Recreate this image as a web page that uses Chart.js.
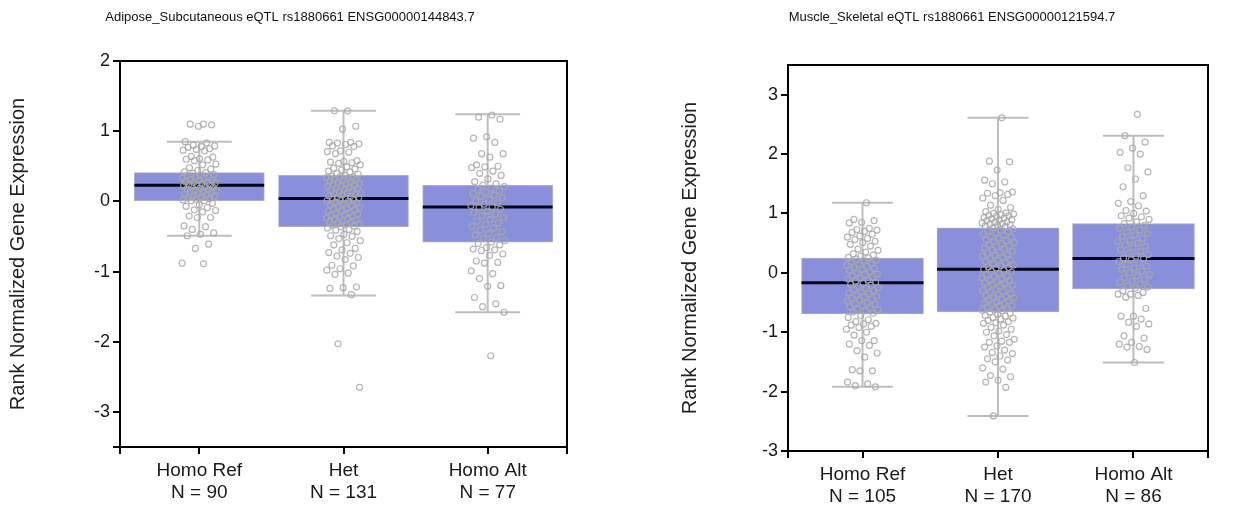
<!DOCTYPE html>
<html>
<head>
<meta charset="utf-8">
<script src="https://cdn.jsdelivr.net/npm/chart.js@4.4.0/dist/chart.umd.min.js"></script>
<style>
body { margin: 0; background: #fff; width: 1243px; height: 508px; position: relative; overflow: hidden; }
#left { position: absolute; left: 0; top: 0; }
#right { position: absolute; left: 672px; top: 0; }
</style>
</head>
<body>
<canvas id="left" width="580" height="508"></canvas>
<canvas id="right" width="560" height="508"></canvas>
<script>
// genotype groups, shared by both panels
var categories = ['Homo Ref', 'Het', 'Homo Alt'];

// Adipose_Subcutaneous
var adiposeN = [90, 131, 77];
var adiposeQ1 = [0.01, -0.36, -0.58];
var adiposeMedian = [0.23, 0.04, -0.08];
var adiposeQ3 = [0.41, 0.37, 0.23];
var adiposeLow = [-0.49, -1.34, -1.58];
var adiposeHigh = [0.85, 1.29, 1.24];
var adiposeYTicks = [-3.5, -3, -2, -1, 0, 1, 2];

var adiposeRef = [1.10, 1.10, 1.09, 1.07, 0.85, 0.83, 0.80, 0.79, 0.78, 0.77, 0.75, 0.74, 0.73, 0.72, 0.64, 0.63, 0.61, 0.60, 0.59, 0.58, 0.53, 0.52, 0.48, 0.46, 0.44, 0.42,
    0.41, 0.40, 0.38, 0.37, 0.37, 0.35, 0.34, 0.33, 0.33, 0.31, 0.30, 0.30, 0.28, 0.27, 0.27, 0.26, 0.25, 0.24, 0.24, 0.23, 0.22, 0.21, 0.21, 0.20, 0.19, 0.18, 0.17, 0.16, 0.15, 0.14, 0.13, 0.12, 0.11, 0.10, 0.09, 0.08, 0.07, 0.06, 0.05, 0.04, 0.03, 0.02, 0.01, 0.01,
    -0.03, -0.05, -0.07, -0.09, -0.12, -0.13, -0.15, -0.21, -0.23, -0.23, -0.35, -0.36, -0.40, -0.45, -0.47, -0.49, -0.61, -0.67, -0.88, -0.89];
var adiposeHet = [1.29, 1.29, 1.07, 1.03, 0.84, 0.84, 0.83, 0.82, 0.81, 0.79, 0.78, 0.72, 0.71, 0.70, 0.68, 0.58, 0.57, 0.56, 0.55, 0.54, 0.52, 0.49, 0.47, 0.46, 0.45, 0.43, 0.42, 0.40, 0.39,
    0.37, 0.36, 0.35, 0.35, 0.34, 0.33, 0.32, 0.31, 0.30, 0.29, 0.28, 0.27, 0.26, 0.25, 0.24, 0.23, 0.22, 0.21, 0.20, 0.19, 0.18, 0.17, 0.16, 0.15, 0.14, 0.13, 0.12, 0.11, 0.10, 0.09, 0.08, 0.07, 0.06, 0.05, 0.04, 0.04, 0.03, 0.02, 0.01, 0.00,
    -0.01, -0.02, -0.04, -0.05, -0.06, -0.07, -0.08, -0.10, -0.11, -0.12, -0.13, -0.14, -0.16, -0.17, -0.18, -0.19, -0.20, -0.21, -0.22, -0.24, -0.25, -0.26, -0.27, -0.28, -0.29, -0.30, -0.31, -0.32, -0.33, -0.34, -0.35, -0.36,
    -0.38, -0.40, -0.41, -0.43, -0.47, -0.49, -0.50, -0.53, -0.56, -0.59, -0.62, -0.67, -0.69, -0.73, -0.74, -0.78, -0.80, -0.83, -0.91, -0.92, -0.96, -0.98, -1.02, -1.04, -1.22, -1.23, -1.24, -1.33, -2.03, -2.65];
var adiposeAlt = [1.23, 1.20, 1.17, 0.92, 0.90, 0.84, 0.68, 0.68, 0.63, 0.52, 0.50, 0.49, 0.48, 0.43, 0.40, 0.37, 0.32, 0.28, 0.25,
    0.23, 0.21, 0.19, 0.17, 0.15, 0.13, 0.11, 0.09, 0.07, 0.05, 0.03, 0.01, -0.02, -0.04, -0.06, -0.08, -0.09, -0.11, -0.14, -0.16, -0.18, -0.21, -0.23, -0.26, -0.28, -0.31, -0.33, -0.36, -0.38, -0.41, -0.43, -0.46, -0.48, -0.51, -0.53, -0.56, -0.58,
    -0.60, -0.62, -0.66, -0.68, -0.69, -0.70, -0.75, -0.77, -0.85, -0.87, -0.88, -0.99, -1.03, -1.10, -1.20, -1.21, -1.37, -1.46, -1.50, -1.58, -2.20];

// Muscle_Skeletal
var muscleN = [105, 170, 86];
var muscleQ1 = [-0.69, -0.66, -0.27];
var muscleMedian = [-0.165, 0.06, 0.24];
var muscleQ3 = [0.25, 0.76, 0.83];
var muscleLow = [-1.92, -2.41, -1.51];
var muscleHigh = [1.18, 2.61, 2.31];
var muscleYTicks = [-3, -2, -1, 0, 1, 2, 3];

var muscleRef = [1.18, 0.90, 0.88, 0.85, 0.84, 0.75, 0.73, 0.72, 0.70, 0.68, 0.65, 0.62, 0.60, 0.58, 0.56, 0.53, 0.51, 0.48, 0.45, 0.40, 0.38, 0.35, 0.32, 0.30, 0.28, 0.26,
    0.25, 0.23, 0.21, 0.20, 0.18, 0.16, 0.14, 0.13, 0.11, 0.09, 0.07, 0.06, 0.04, 0.02, 0.00, -0.02, -0.03, -0.05, -0.07, -0.09, -0.10, -0.12, -0.14, -0.16, -0.17, -0.19, -0.21, -0.23, -0.25, -0.26, -0.28, -0.30, -0.32, -0.34, -0.35, -0.37, -0.39, -0.41, -0.43, -0.44, -0.46, -0.48, -0.50, -0.52, -0.53, -0.55, -0.57, -0.59, -0.61, -0.62, -0.64, -0.66, -0.68,
    -0.72, -0.75, -0.79, -0.82, -0.85, -0.86, -0.88, -0.90, -0.92, -0.95, -1.00, -1.05, -1.14, -1.14, -1.20, -1.22, -1.31, -1.35, -1.42, -1.63, -1.65, -1.65, -1.84, -1.87, -1.90, -1.92];
var muscleHet = [2.61, 1.88, 1.87, 1.73, 1.56, 1.53, 1.50, 1.36, 1.35, 1.34, 1.32, 1.30, 1.26, 1.22, 1.14, 1.10, 1.07, 1.03, 1.01, 1.00, 0.99, 0.98, 0.97, 0.96, 0.95, 0.93, 0.92, 0.91, 0.90, 0.89, 0.88, 0.86, 0.85, 0.84, 0.83, 0.82, 0.81, 0.80, 0.79, 0.78,
    0.76, 0.74, 0.72, 0.70, 0.69, 0.67, 0.65, 0.63, 0.61, 0.60, 0.58, 0.56, 0.54, 0.53, 0.51, 0.49, 0.47, 0.45, 0.44, 0.42, 0.40, 0.38, 0.36, 0.35, 0.33, 0.31, 0.29, 0.28, 0.26, 0.24, 0.22, 0.21, 0.19, 0.17, 0.15, 0.13, 0.12, 0.10, 0.09, 0.08, 0.06, 0.04, 0.03, 0.01,
    -0.01, -0.03, -0.05, -0.06, -0.08, -0.10, -0.12, -0.13, -0.15, -0.17, -0.18, -0.19, -0.21, -0.22, -0.24, -0.26, -0.28, -0.30, -0.31, -0.33, -0.35, -0.37, -0.38, -0.40, -0.41, -0.42, -0.44, -0.46, -0.47, -0.49, -0.51, -0.52, -0.53, -0.55, -0.56, -0.58, -0.60, -0.62, -0.63, -0.64, -0.66,
    -0.68, -0.70, -0.72, -0.73, -0.75, -0.76, -0.78, -0.80, -0.82, -0.84, -0.85, -0.88, -0.92, -0.95, -0.98, -1.00, -1.04, -1.06, -1.12, -1.15, -1.17, -1.17, -1.23, -1.25, -1.30, -1.34, -1.36, -1.40, -1.45, -1.47, -1.50, -1.60, -1.62, -1.73, -1.75, -1.81, -1.84, -1.93, -2.41];
var muscleAlt = [2.67, 2.31, 2.20, 2.10, 2.03, 2.00, 1.77, 1.70, 1.58, 1.45, 1.30, 1.20, 1.17, 1.13, 1.05, 1.04, 1.00, 0.96, 0.94, 0.92, 0.90, 0.86,
    0.83, 0.80, 0.77, 0.75, 0.72, 0.69, 0.66, 0.64, 0.61, 0.58, 0.55, 0.53, 0.50, 0.47, 0.44, 0.42, 0.39, 0.36, 0.33, 0.31, 0.28, 0.25, 0.24, 0.22, 0.19, 0.17, 0.14, 0.11, 0.08, 0.06, 0.03, 0.00, -0.03, -0.05, -0.08, -0.11, -0.14, -0.16, -0.19, -0.22, -0.24, -0.26,
    -0.30, -0.33, -0.36, -0.36, -0.38, -0.41, -0.60, -0.73, -0.73, -0.78, -0.83, -0.86, -0.90, -1.06, -1.10, -1.17, -1.20, -1.24, -1.25, -1.29, -1.51];

Chart.defaults.font.family = "'Liberation Sans', Arial, sans-serif";
Chart.defaults.color = '#1a1a1a';

var BOX_HALF = 0.45;
var CAP_HALF = 0.225;

// spread the dots sideways so they don't sit on top of each other
function jitter(i) {
    return (((i + 1) * 0.618034) % 1 - 0.5) * 0.24;
}

var framePlugin = {
    id: 'frame',
    afterDraw: function(chart) {
        var a = chart.chartArea, ctx = chart.ctx;
        ctx.save();
        ctx.strokeStyle = '#000';
        ctx.lineWidth = 2;
        ctx.strokeRect(a.left, a.top, a.right - a.left, a.bottom - a.top);
        ctx.restore();
    }
};

function buildBoxChart(id, p) {
    var boxes = [], medians = [], whiskers = [], dots = [];
    for (var g = 0; g < categories.length; g++) {
        boxes.push({x: g, y: [p.q1[g], p.q3[g]]});
        medians.push({x: g - BOX_HALF, y: p.median[g]}, {x: g + BOX_HALF, y: p.median[g]}, {x: g, y: null});
        whiskers.push({x: g, y: p.low[g]}, {x: g, y: p.high[g]}, {x: g, y: null});
        whiskers.push({x: g - CAP_HALF, y: p.low[g]}, {x: g + CAP_HALF, y: p.low[g]}, {x: g, y: null});
        whiskers.push({x: g - CAP_HALF, y: p.high[g]}, {x: g + CAP_HALF, y: p.high[g]}, {x: g, y: null});
        p.points[g].forEach(function(v, i) {
            dots.push({x: g + jitter(i), y: v});
        });
    }

    return new Chart(document.getElementById(id), {
        type: 'bar',
        data: {
            datasets: [{
                type: 'scatter',
                data: dots,
                pointRadius: 3,
                pointBorderWidth: 1.2,
                pointBorderColor: 'rgba(168,168,168,0.85)',
                pointBackgroundColor: 'rgba(0,0,0,0)',
                order: 0
            }, {
                type: 'line',
                data: medians,
                borderColor: '#05051a',
                borderWidth: 3,
                pointRadius: 0,
                spanGaps: false,
                order: 1
            }, {
                data: boxes,
                backgroundColor: 'rgb(138,143,219)',
                borderColor: 'rgb(175,175,195)',
                borderWidth: 1,
                borderSkipped: false,
                barThickness: p.barThickness,
                order: 2
            }, {
                type: 'line',
                data: whiskers,
                borderColor: 'rgb(190,190,190)',
                borderWidth: 2,
                pointRadius: 0,
                spanGaps: false,
                order: 3
            }]
        },
        options: {
            responsive: false,
            animation: false,
            events: [],
            layout: {padding: 0},
            plugins: {
                legend: {display: false},
                tooltip: {enabled: false},
                title: {
                    display: true,
                    text: p.title,
                    color: '#111',
                    font: {size: 13, weight: 'normal'},
                    padding: {top: 10, bottom: p.titleGap}
                }
            },
            scales: {
                x: {
                    type: 'linear',
                    min: -0.55,
                    max: 2.55,
                    offset: false,
                    afterBuildTicks: function(s) {
                        s.ticks = [-0.55, 0, 1, 2, 2.55].map(function(v) { return {value: v}; });
                    },
                    afterFit: function(s) { s.height = p.xHeight; },
                    border: {color: '#000', width: 2},
                    grid: {drawOnChartArea: false, color: '#000', lineWidth: 2, tickLength: 7, offset: false},
                    ticks: {
                        autoSkip: false,
                        maxRotation: 0,
                        padding: 5,
                        font: {size: 19},
                        callback: function(v) {
                            if (Number.isInteger(v) && v >= 0 && v < categories.length) {
                                return [categories[v], 'N = ' + p.n[v]];
                            }
                            return '';
                        }
                    }
                },
                y: {
                    min: p.yMin,
                    max: p.yMax,
                    afterBuildTicks: function(s) {
                        s.ticks = p.yTicks.map(function(v) { return {value: v}; });
                    },
                    afterFit: function(s) { s.width = p.yWidth; },
                    border: {color: '#000', width: 2},
                    grid: {drawOnChartArea: false, color: '#000', lineWidth: 2, tickLength: 7},
                    ticks: {
                        padding: 3,
                        font: {size: 18},
                        callback: function(v) { return Number.isInteger(v) ? String(v) : ''; }
                    },
                    title: {
                        display: true,
                        text: 'Rank Normalized Gene Expression',
                        color: '#222',
                        font: {size: 20},
                        padding: {top: 6, bottom: 0}
                    }
                },
                // empty strip on the right so the title centres on the whole panel
                spacer: {
                    type: 'linear',
                    position: 'right',
                    display: true,
                    min: 0,
                    max: 1,
                    afterFit: function(s) { s.width = p.padRight; },
                    border: {display: false},
                    grid: {display: false},
                    ticks: {display: false}
                }
            }
        },
        plugins: [framePlugin]
    });
}

buildBoxChart('left', {
    title: 'Adipose_Subcutaneous eQTL rs1880661 ENSG00000144843.7',
    n: adiposeN, q1: adiposeQ1, median: adiposeMedian, q3: adiposeQ3,
    low: adiposeLow, high: adiposeHigh,
    points: [adiposeRef, adiposeHet, adiposeAlt],
    yMin: -3.5, yMax: 2, yTicks: adiposeYTicks,
    yWidth: 120, xHeight: 61, padRight: 13, titleGap: 35.4, barThickness: 130
});

buildBoxChart('right', {
    title: 'Muscle_Skeletal eQTL rs1880661 ENSG00000121594.7',
    n: muscleN, q1: muscleQ1, median: muscleMedian, q3: muscleQ3,
    low: muscleLow, high: muscleHigh,
    points: [muscleRef, muscleHet, muscleAlt],
    yMin: -3, yMax: 3.5, yTicks: muscleYTicks,
    yWidth: 116, xHeight: 57, padRight: 24, titleGap: 39.4, barThickness: 122
});
</script>
</body>
</html>
